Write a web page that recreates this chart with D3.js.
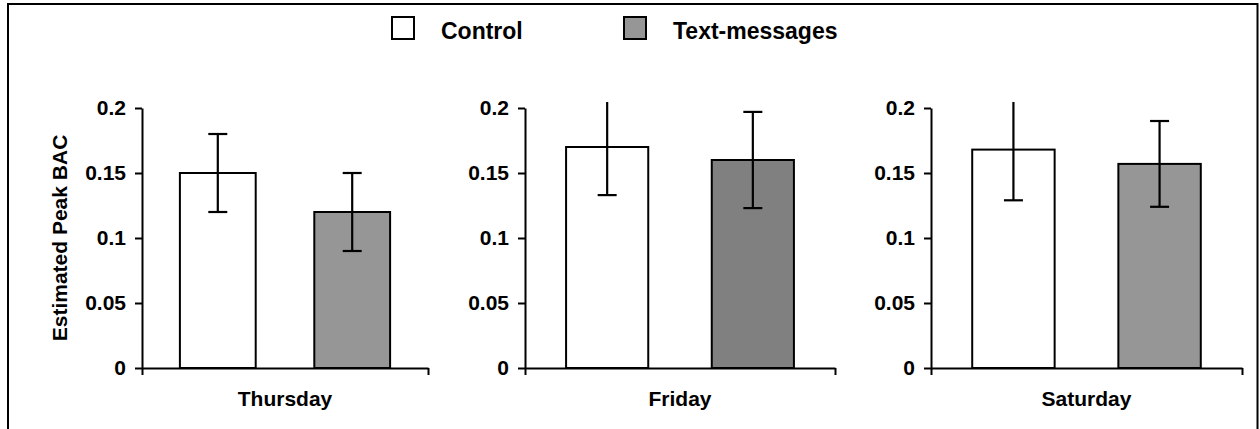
<!DOCTYPE html>
<html>
<head>
<meta charset="utf-8">
<script src="https://cdn.jsdelivr.net/npm/d3@7"></script>
<style>
  body { margin: 0; background: #fff; }
  svg text { font-family: "Liberation Sans", Arial, sans-serif; font-weight: bold; fill: #000; }
</style>
</head>
<body>
<svg id="chart" width="1260" height="429"></svg>
<script>
// chart values
const days = ["Thursday", "Friday", "Saturday"];
const groups = ["Control", "Text-messages"];
const controlMeans = [0.15, 0.17, 0.168];
const controlErr = [0.03, 0.037, 0.039];
const textMeans = [0.12, 0.16, 0.157];
const textErr = [0.03, 0.037, 0.033];
const textColors = ["#969696", "#808080", "#969696"];
const yTicks = [0, 0.05, 0.1, 0.15, 0.2];

const svg = d3.select("#chart");

// outer frame
svg.append("rect")
  .attr("x", 8).attr("y", 4)
  .attr("width", 1249.5).attr("height", 440)
  .attr("fill", "none").attr("stroke", "#000").attr("stroke-width", 2);

// legend
const legendItems = [
  { label: groups[0], fill: "#fff", x: 392 },
  { label: groups[1], fill: "#969696", x: 624 }
];
const legend = svg.append("g");
legend.selectAll("rect")
  .data(legendItems)
  .enter().append("rect")
  .attr("x", d => d.x).attr("y", 17)
  .attr("width", 22).attr("height", 22)
  .attr("fill", d => d.fill)
  .attr("stroke", "#000").attr("stroke-width", 2);
legend.selectAll("text")
  .data(legendItems)
  .enter().append("text")
  .attr("x", d => d.x + 49).attr("y", 38.5)
  .style("font-size", "23px")
  .text(d => d.label);

// panel positions (left edge of y axis, right end of x axis)
const panels = [[142, 428], [525, 835], [931, 1242]];

const y = d3.scaleLinear().domain([0, 0.2]).range([368, 108]);

const defs = svg.append("defs");

panels.forEach(([x0, x1], i) => {
  const g = svg.append("g");

  defs.append("clipPath").attr("id", "clip" + i)
    .append("rect")
    .attr("x", x0).attr("y", 102)
    .attr("width", x1 - x0).attr("height", 368 - 102);

  const x = d3.scaleBand()
    .domain(groups)
    .range([x0, x1])
    .paddingInner(0.436)
    .paddingOuter(0.282);

  const rows = [
    { g: groups[0], v: controlMeans[i], e: controlErr[i], fill: "#fff" },
    { g: groups[1], v: textMeans[i], e: textErr[i], fill: textColors[i] }
  ];

  // bars
  g.selectAll("rect.bar")
    .data(rows)
    .enter().append("rect")
    .attr("class", "bar")
    .attr("x", d => x(d.g))
    .attr("y", d => y(d.v))
    .attr("width", x.bandwidth())
    .attr("height", d => y(0) - y(d.v))
    .attr("fill", d => d.fill)
    .attr("stroke", "#000").attr("stroke-width", 2);

  // error bars (clipped to the plot area like the original)
  const eg = g.append("g").attr("clip-path", `url(#clip${i})`);
  const cap = 9.5;
  rows.forEach(d => {
    const cx = x(d.g) + x.bandwidth() / 2;
    const lo = y(d.v - d.e), hi = y(d.v + d.e);
    eg.append("line").attr("x1", cx).attr("x2", cx).attr("y1", lo).attr("y2", hi);
    eg.append("line").attr("x1", cx - cap).attr("x2", cx + cap).attr("y1", lo).attr("y2", lo);
    eg.append("line").attr("x1", cx - cap).attr("x2", cx + cap).attr("y1", hi).attr("y2", hi);
  });
  eg.selectAll("line").attr("stroke", "#000").attr("stroke-width", 2.2);

  // y axis
  const yAxis = g.append("g")
    .attr("transform", `translate(${x0},0)`)
    .call(d3.axisLeft(y).tickValues(yTicks).tickFormat(d => String(d))
      .tickSize(7).tickSizeOuter(0).tickPadding(9));
  yAxis.selectAll("text").style("font-size", "21px");

  // x axis with ticks at category ends
  const xe = d3.scaleLinear().domain([0, 1]).range([x0, x1]);
  g.append("g")
    .attr("transform", `translate(0,${y(0)})`)
    .call(d3.axisBottom(xe).tickValues([0, 1]).tickFormat("").tickSize(7).tickSizeOuter(0));

  g.selectAll(".domain, .tick line").attr("stroke", "#000").attr("stroke-width", 2);

  g.append("text")
    .attr("x", (x0 + x1) / 2).attr("y", 406)
    .attr("text-anchor", "middle")
    .style("font-size", "21px")
    .text(days[i]);
});

// y axis title
svg.append("text")
  .attr("transform", "translate(60,238) rotate(-90)")
  .attr("text-anchor", "middle")
  .attr("dy", "0.35em")
  .style("font-size", "21px")
  .text("Estimated Peak BAC");
</script>
</body>
</html>
